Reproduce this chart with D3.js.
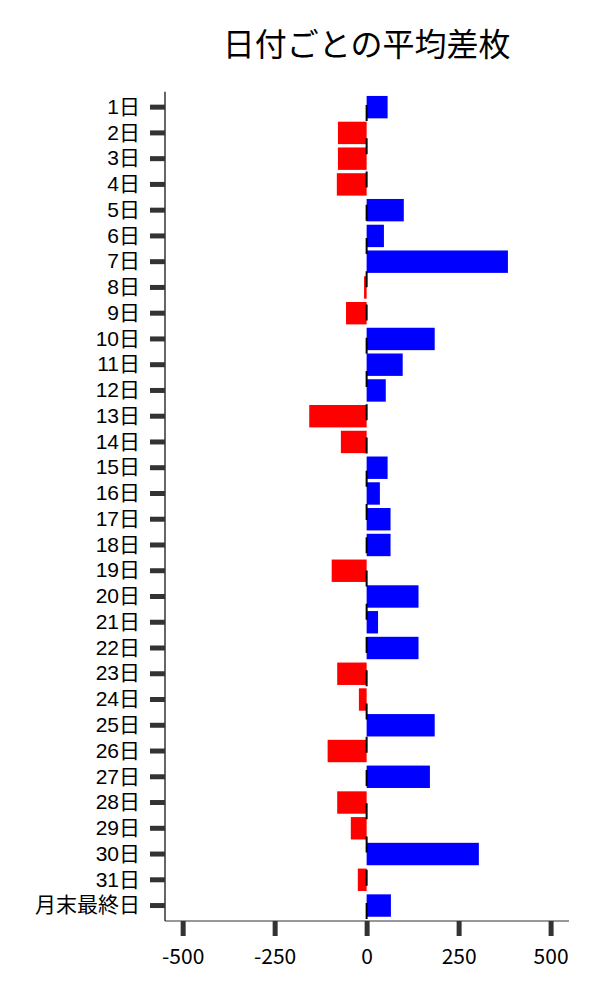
<!DOCTYPE html>
<html>

<head>
<meta charset="utf-8">
<style>
body { margin: 0; background: #fff; }
text { font-family: "Noto Sans CJK JP", "Noto Sans", sans-serif; }
.y-axis text { font-family: "Liberation Sans", "Noto Sans CJK JP", sans-serif; }
</style>
</head>

<body>

<div id="diagram"></div>

<script src="https://cdn.jsdelivr.net/npm/d3@7"></script>
<script>

var days = [ '1日', '2日', '3日', '4日', '5日', '6日', '7日', '8日', '9日', '10日',
	'11日', '12日', '13日', '14日', '15日', '16日', '17日', '18日', '19日', '20日',
	'21日', '22日', '23日', '24日', '25日', '26日', '27日', '28日', '29日', '30日',
	'31日', '月末最終日' ];

var avg_diff = [ 57, -78, -78, -81, 101, 47, 384, -7, -56, 185,
	98, 52, -156, -70, 57, 36, 65, 65, -95, 141,
	31, 141, -80, -21, 185, -106, 172, -80, -43, 305,
	-24, 66 ];

var x_ticks = [ -500, -250, 0, 250, 500 ];

var title_text = '日付ごとの平均差枚';

var canvas_size = { width: 600, height: 1000 };
var plot = { left: 165, right: 569, top: 91.7, bottom: 921 };

var svg = null;


window.onload = function()
{
	svg = d3.select( '#diagram' )
		.append( 'svg' )
			.attr( 'width', canvas_size.width )
			.attr( 'height', canvas_size.height );

	draw_chart();
}


function draw_chart()
{
	var data = days.map( function( d, i ) { return { day: d, value: avg_diff[i] }; } );

	var x = d3.scaleLinear()
		.domain( [-548, 550] )
		.range( [plot.left, plot.right] );

	var y = d3.scaleBand()
		.domain( days )
		.range( [plot.top, plot.bottom] )
		.paddingInner( 0.13 )
		.paddingOuter( 0.165 );

	// bars
	svg.append( 'g' )
		.selectAll( 'rect' )
		.data( data )
		.enter().append( 'rect' )
			.attr( 'x', function(d) { return x( Math.min( 0, d.value ) ); } )
			.attr( 'y', function(d) { return y( d.day ); } )
			.attr( 'width', function(d) { return Math.abs( x( d.value ) - x( 0 ) ); } )
			.attr( 'height', y.bandwidth() )
			.attr( 'fill', function(d) { return d.value < 0 ? '#ff0000' : '#0000ff'; } );

	// dashed zero line
	svg.append( 'line' )
		.attr( 'x1', x( 0 ) )
		.attr( 'x2', x( 0 ) )
		.attr( 'y1', plot.top )
		.attr( 'y2', plot.bottom )
		.attr( 'stroke', '#000' )
		.attr( 'stroke-width', 2 )
		.attr( 'stroke-dasharray', '16,17.25' )
		.attr( 'stroke-dashoffset', 33.25 - ( 105 - plot.top ) );

	// y axis
	var y_axis = svg.append( 'g' )
		.attr( 'class', 'y-axis' )
		.attr( 'transform', 'translate(' + plot.left + ',0)' )
		.call( d3.axisLeft( y ).tickSize( 15 ).tickPadding( 10 ) );

	y_axis.select( '.domain' )
		.attr( 'd', 'M0,' + plot.top + 'V' + plot.bottom )
		.attr( 'stroke', '#000' )
		.attr( 'stroke-width', 1.2 );

	// x axis, plain hyphen for negatives
	var x_axis = svg.append( 'g' )
		.attr( 'transform', 'translate(0,' + plot.bottom + ')' )
		.call( d3.axisBottom( x )
			.tickValues( x_ticks )
			.tickFormat( function(d) { return String( d ); } )
			.tickSize( 15 )
			.tickPadding( 13 ) );

	x_axis.select( '.domain' )
		.attr( 'd', 'M' + plot.left + ',0H' + plot.right )
		.attr( 'stroke', '#333' )
		.attr( 'stroke-width', 1.2 );

	svg.selectAll( '.tick line' )
		.attr( 'stroke', '#333' )
		.attr( 'stroke-width', 5 );

	svg.selectAll( '.tick text' )
		.attr( 'fill', '#000' )
		.style( 'font-size', '21px' );

	// title
	svg.append( 'text' )
		.attr( 'x', x( 0 ) )
		.attr( 'y', 56 )
		.attr( 'text-anchor', 'middle' )
		.style( 'font-size', '32px' )
		.attr( 'fill', '#000' )
		.text( title_text );
}

</script>

</body>
</html>
